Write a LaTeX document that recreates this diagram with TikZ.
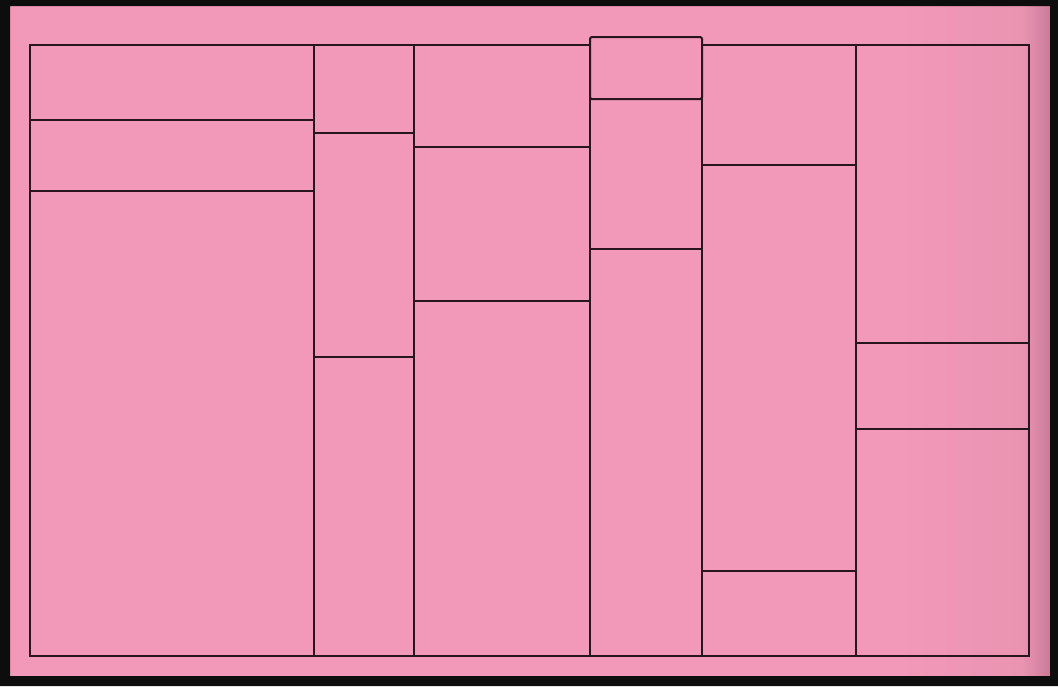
\documentclass[tikz,border=0pt]{standalone}
\definecolor{frame}{RGB}{13,13,13}
\definecolor{bgpink}{RGB}{242,152,184}
\definecolor{midpink}{RGB}{234,148,178}
\definecolor{edgepink}{RGB}{200,122,150}
\definecolor{linecol}{RGB}{40,22,30}
\begin{document}
\begin{tikzpicture}[x=1pt,y=-1pt,
  cell/.style={draw=linecol,line width=2pt,line join=miter}]
\useasboundingbox (0,0) rectangle (1058,686);
\fill[bgpink] (0,0) rectangle (1058,686);
\shade[left color=bgpink,right color=midpink] (900,4) rectangle (1022,678);
\shade[left color=midpink,right color=edgepink] (1022,4) rectangle (1052,678);
\fill[frame,even odd rule] (0,0) rectangle (1058,686) (10,6) rectangle (1050,676);
% column 1
\draw[cell] (30,45) rectangle (314,120);
\draw[cell] (30,120) rectangle (314,191);
\draw[cell] (30,191) rectangle (314,656);
% column 2
\draw[cell] (314,45) rectangle (414,133);
\draw[cell] (314,133) rectangle (414,357);
\draw[cell] (314,357) rectangle (414,656);
% column 3
\draw[cell] (414,45) rectangle (590,147);
\draw[cell] (414,147) rectangle (590,301);
\draw[cell] (414,301) rectangle (590,656);
% column 4
\draw[cell,rounded corners=1.5pt] (590,37) rectangle (702,99);
\draw[cell] (590,99) rectangle (702,249);
\draw[cell] (590,249) rectangle (702,656);
% column 5
\draw[cell] (702,45) rectangle (856,165);
\draw[cell] (702,165) rectangle (856,571);
\draw[cell] (702,571) rectangle (856,656);
% column 6
\draw[cell] (856,45) rectangle (1029,343);
\draw[cell] (856,343) rectangle (1029,429);
\draw[cell] (856,429) rectangle (1029,656);
\end{tikzpicture}
\end{document}
